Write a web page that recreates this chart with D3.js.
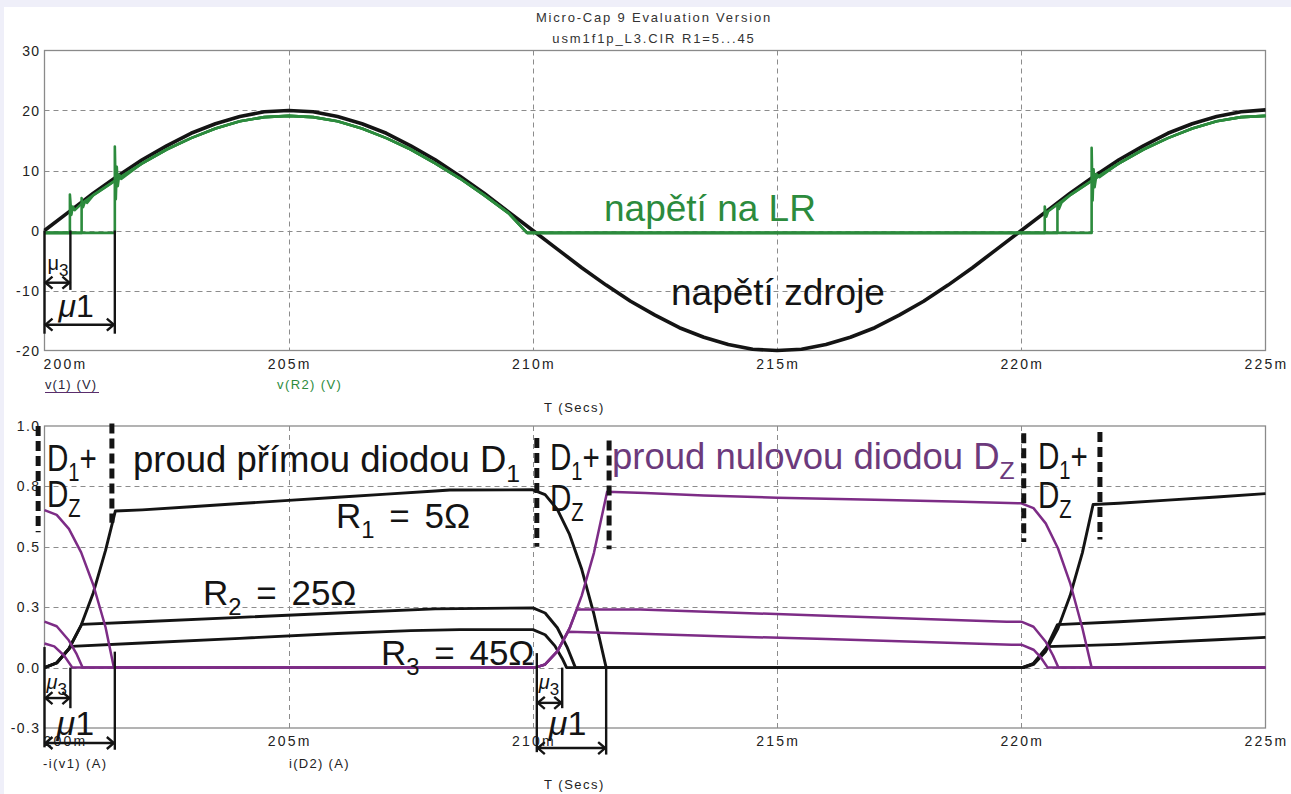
<!DOCTYPE html>
<html>
<head>
<meta charset="utf-8">
<script src="https://cdn.jsdelivr.net/npm/d3@7"></script>
<style>
  body { margin: 0; background: #efeff9; }
  svg { display: block; font-family: "Liberation Sans", Arial, sans-serif; }
</style>
</head>
<body>
<svg id="chart" width="1291" height="794"></svg>
<script>
// ---- axes ----
const xTicks = [200, 205, 210, 215, 220, 225];
const xTickLabels = ["200m", "205m", "210m", "215m", "220m", "225m"];
const vTicks = [-20, -10, 0, 10, 20, 30];
const vTickLabels = ["-20", "-10", "0", "10", "20", "30"];
const iTicks = [-0.25, 0, 0.25, 0.5, 0.75, 1.0];
const iTickLabels = ["-0.3", "0.0", "0.3", "0.5", "0.8", "1.0"];

// ---- top plot: v(1) source voltage, sampled every 0.5 ms from 200 ms ----
const srcStart = 200, srcStep = 0.5;
const srcVolts = [
  0, 3.1, 6.2, 9.1, 11.8, 14.1, 16.2, 17.8, 19.0, 19.8, 20.0,
  19.8, 19.0, 17.8, 16.2, 14.1, 11.8, 9.1, 6.2, 3.1, 0,
  -3.1, -6.2, -9.1, -11.8, -14.1, -16.2, -17.8, -19.0, -19.8, -20.0,
  -19.8, -19.0, -17.8, -16.2, -14.1, -11.8, -9.1, -6.2, -3.1, 0,
  3.1, 6.2, 9.1, 11.8, 14.1, 16.2, 17.8, 19.0, 19.8, 20.1
];

// ---- top plot: v(R2) load voltage, [time ms, volts] ----
const loadCommon1 = [[202, 11.2], [202.5, 13.5], [203, 15.4], [203.5, 17.0], [204, 18.2], [204.5, 18.9],
  [205, 19.1], [205.5, 18.9], [206, 18.2], [206.5, 17.0], [207, 15.4], [207.5, 13.5], [208, 11.2],
  [208.5, 8.7], [209, 5.9], [209.5, 2.9], [209.88, -0.4], [220, -0.4]];
const loadCommon2 = [[222, 11.2], [222.5, 13.5], [223, 15.4], [223.5, 17.0], [224, 18.2], [224.5, 18.9], [225, 19.1]];
const loadR3 = [[200, -0.4], [200.52, -0.4], [200.52, 6.0], [200.55, 2.6], [200.58, 4.0], [200.62, 3.4],
  [200.75, 4.4], [201, 5.9], [201.5, 8.6], ...loadCommon1,
  [220.48, -0.4], [220.48, 4.0], [220.51, 2.3], [220.55, 3.2], [220.75, 4.4], [221, 5.9], [221.5, 8.6], ...loadCommon2];
const loadR2 = [[200, -0.4], [200.76, -0.4], [200.76, 5.4], [200.79, 3.9], [200.83, 4.9], [200.87, 4.6],
  [201, 5.9], [201.5, 8.6], ...loadCommon1,
  [220.74, -0.4], [220.74, 4.3], [220.77, 3.6], [220.82, 4.6], [221, 5.9], [221.5, 8.6], ...loadCommon2];
const loadR1 = [[200, -0.4], [201.44, -0.4], [201.44, 14.0], [201.46, 5.2], [201.48, 10.6], [201.5, 7.4],
  [201.53, 9.3], [201.57, 8.6], ...loadCommon1,
  [221.44, -0.4], [221.44, 13.8], [221.46, 5.0], [221.48, 10.2], [221.5, 7.2], [221.54, 9.4], [221.6, 8.9], ...loadCommon2];

// ---- bottom plot: -i(v1) source current per run, [time ms, amps] ----
const srcCurR1 = [[200, 0], [200.25, 0.02], [200.5, 0.078], [200.75, 0.175], [201, 0.31], [201.25, 0.485], [201.45, 0.648],
  [202, 0.653], [203, 0.666], [204, 0.679], [205, 0.692], [206, 0.705], [207, 0.718], [208, 0.731], [208.3, 0.735], [210, 0.736],
  [210.25, 0.716], [210.5, 0.655], [210.75, 0.551], [211, 0.407], [211.25, 0.221], [211.5, 0],
  [220.05, 0], [220.25, 0.013], [220.5, 0.067], [220.75, 0.162], [221, 0.298], [221.25, 0.475], [221.47, 0.675],
  [222, 0.68], [223, 0.693], [224, 0.706], [225, 0.72]];
const srcCurR2 = [[200, 0], [200.25, 0.019], [200.5, 0.078], [200.76, 0.179],
  [202, 0.19], [204, 0.208], [206, 0.226], [208, 0.243], [210, 0.247],
  [210.25, 0.226], [210.5, 0.165], [210.7, 0.085], [210.87, 0],
  [220.02, 0], [220.25, 0.017], [220.5, 0.075], [220.74, 0.178],
  [222, 0.19], [224, 0.211], [225, 0.223]];
const srcCurR3 = [[200, 0], [200.25, 0.019], [200.55, 0.088],
  [202, 0.102], [204, 0.121], [206, 0.141], [207.5, 0.153], [208.5, 0.157], [210, 0.157],
  [210.25, 0.136], [210.45, 0.09], [210.6, 0.038], [210.69, 0],
  [220.02, 0], [220.25, 0.017], [220.53, 0.087],
  [222, 0.096], [224, 0.115], [225, 0.125]];

// ---- bottom plot: i(D2) freewheel diode current per run ----
const diodeCurR1 = [[200, 0.652], [200.25, 0.632], [200.5, 0.574], [200.75, 0.477], [201, 0.342], [201.25, 0.167], [201.42, 0],
  [210.05, 0], [210.25, 0.013], [210.5, 0.067], [210.75, 0.162], [211, 0.298], [211.25, 0.475], [211.52, 0.728],
  [212.3, 0.723], [213.5, 0.712], [215, 0.703], [217, 0.695], [218.6, 0.688], [220, 0.68],
  [220.25, 0.66], [220.5, 0.597], [220.75, 0.494], [221, 0.35], [221.25, 0.164], [221.44, 0], [225, 0]];
const diodeCurR2 = [[200, 0.19], [200.25, 0.171], [200.5, 0.112], [200.65, 0.059], [200.78, 0],
  [210.05, 0], [210.25, 0.013], [210.5, 0.067], [210.75, 0.162], [210.9, 0.24],
  [212.2, 0.24], [214, 0.228], [216, 0.215], [218, 0.201], [219.7, 0.19], [220, 0.19],
  [220.25, 0.169], [220.5, 0.107], [220.65, 0.05], [220.76, 0], [225, 0]];
const diodeCurR3 = [[200, 0.10], [200.2, 0.088], [200.4, 0.05], [200.57, 0],
  [210.05, 0], [210.25, 0.013], [210.5, 0.067], [210.72, 0.148],
  [212.2, 0.14], [214, 0.129], [216, 0.118], [218, 0.106], [219.8, 0.095], [220, 0.095],
  [220.25, 0.074], [220.4, 0.042], [220.54, 0], [225, 0]];

// ---- annotation data (time ms / value) ----
const commTimesTop = [{t0: 200, t3: 200.53, t1: 201.44}];
const commTimesBot = [
  {t0: 200, t3: 200.53, t1: 201.44, top0: 0.085, top1: 0.066, bot: -0.33, a3: -0.126, a1: -0.312},
  {t0: 210.08, t3: 210.6, t1: 211.5, top0: 0.06, top1: 0, bot: -0.35, a3: -0.146, a1: -0.333}
];
const bandMarks = [
  {t: 199.87, from: 1.0, to: 0.56}, {t: 201.38, from: 1.01, to: 0.6},
  {t: 210.08, from: 0.95, to: 0.5}, {t: 211.56, from: 0.94, to: 0.49},
  {t: 220.05, from: 0.97, to: 0.52}, {t: 221.61, from: 0.975, to: 0.53}
];

// ---- layout ----
const W = 1291, H = 794;
const plotLeft = 44.5, plotRight = 1265.5;
const topPlot = {top: 50.5, bottom: 350.5};
const botPlot = {top: 426, bottom: 728};
const BLACK = "#141414", GREEN = "#2c8b3d", PURPLE = "#7d2c86", PURPLE_TXT = "#6c3a7c", GRID = "#8c8c8c";

const svg = d3.select("#chart");
svg.append("rect").attr("x", 0).attr("y", 0).attr("width", W).attr("height", H).attr("fill", "#efeff9");
svg.append("rect").attr("x", 4).attr("y", 7).attr("width", W - 4).attr("height", H - 7).attr("fill", "#ffffff");

const x = d3.scaleLinear().domain([200, 225]).range([plotLeft, plotRight]);
const yV = d3.scaleLinear().domain([-20, 30]).range([topPlot.bottom, topPlot.top]);
const yI = d3.scaleLinear().domain([-0.25, 1.0]).range([botPlot.bottom, botPlot.top]);

// titles
svg.append("text").attr("x", 654).attr("y", 22).attr("text-anchor", "middle")
  .attr("font-size", 13).attr("letter-spacing", 1.8).attr("fill", "#333")
  .text("Micro-Cap 9 Evaluation Version");
svg.append("text").attr("x", 654).attr("y", 43).attr("text-anchor", "middle")
  .attr("font-size", 13).attr("letter-spacing", 1.9).attr("fill", "#333")
  .text("usm1f1p_L3.CIR R1=5...45");

function drawFrame(box, yScale, ticks, tickLabels) {
  const g = svg.append("g");
  // horizontal grid
  g.selectAll("line.hg").data(ticks.slice(1, -1)).join("line")
    .attr("x1", plotLeft).attr("x2", plotRight)
    .attr("y1", d => Math.round(yScale(d)) + 0.5).attr("y2", d => Math.round(yScale(d)) + 0.5)
    .attr("stroke", GRID).attr("stroke-width", 1).attr("stroke-dasharray", "5,4");
  // vertical grid
  g.selectAll("line.vg").data(xTicks.slice(1, -1)).join("line")
    .attr("x1", d => Math.round(x(d)) + 0.5).attr("x2", d => Math.round(x(d)) + 0.5)
    .attr("y1", box.top).attr("y2", box.bottom)
    .attr("stroke", GRID).attr("stroke-width", 1).attr("stroke-dasharray", "5,4");
  g.append("rect").attr("x", plotLeft).attr("y", box.top)
    .attr("width", plotRight - plotLeft).attr("height", box.bottom - box.top)
    .attr("fill", "none").attr("stroke", "#8a8a8a").attr("stroke-width", 1.3);
  // y tick labels
  g.selectAll("text.yl").data(ticks).join("text")
    .attr("x", 40.5).attr("y", d => yScale(d) + 5).attr("text-anchor", "end")
    .attr("font-size", 14).attr("letter-spacing", 1.4).attr("fill", "#222")
    .text((d, i) => tickLabels[i]);
  // x tick labels
  g.selectAll("text.xl").data(xTicks).join("text")
    .attr("x", (d, i) => i === 0 ? x(d) - 1 : x(d) + 1)
    .attr("y", box.bottom + 18).attr("text-anchor", (d, i) => i === 0 ? "start" : "middle")
    .attr("font-size", 14).attr("letter-spacing", 2.2).attr("fill", "#222")
    .text((d, i) => xTickLabels[i]);
  g.append("text").attr("x", 544).attr("y", box.bottom + 61)
    .attr("font-size", 13).attr("letter-spacing", 1.5).attr("fill", "#222").text("T (Secs)");
  return g;
}

drawFrame(topPlot, yV, vTicks, vTickLabels);
drawFrame(botPlot, yI, iTicks, iTickLabels);

// trace names
svg.append("text").attr("x", 45).attr("y", 389).attr("font-size", 13).attr("letter-spacing", 1.1)
  .attr("fill", "#2a1f3a").text("v(1) (V)");
svg.append("line").attr("x1", 45).attr("x2", 99).attr("y1", 392.5).attr("y2", 392.5)
  .attr("stroke", "#5a2d6c").attr("stroke-width", 1.2);
svg.append("text").attr("x", 277).attr("y", 389).attr("font-size", 13).attr("letter-spacing", 1.4)
  .attr("fill", GREEN).text("v(R2) (V)");
svg.append("text").attr("x", 43).attr("y", 768).attr("font-size", 13).attr("letter-spacing", 1.4)
  .attr("fill", "#222").text("-i(v1) (A)");
svg.append("text").attr("x", 289).attr("y", 768).attr("font-size", 13).attr("letter-spacing", 1.3)
  .attr("fill", "#222").text("i(D2) (A)");

// ---- traces ----
const srcSeries = srcVolts.map((v, i) => [srcStart + i * srcStep, v]);
const lineV = d3.line().x(d => x(d[0])).y(d => yV(d[1]));
const lineI = d3.line().x(d => x(d[0])).y(d => yI(d[1]));

const topG = svg.append("g");
topG.append("path").datum(srcSeries).attr("d", lineV)
  .attr("fill", "none").attr("stroke", BLACK).attr("stroke-width", 3.6).attr("stroke-linejoin", "round");
[loadR1, loadR2, loadR3].forEach(s => {
  topG.append("path").datum(s).attr("d", lineV)
    .attr("fill", "none").attr("stroke", GREEN).attr("stroke-width", 2.6).attr("stroke-linejoin", "round");
});

const botG = svg.append("g");
[srcCurR1, srcCurR2, srcCurR3].forEach(s => {
  botG.append("path").datum(s).attr("d", lineI)
    .attr("fill", "none").attr("stroke", BLACK).attr("stroke-width", 2.9).attr("stroke-linejoin", "round");
});
[diodeCurR1, diodeCurR2, diodeCurR3].forEach(s => {
  botG.append("path").datum(s).attr("d", lineI)
    .attr("fill", "none").attr("stroke", PURPLE).attr("stroke-width", 2.5).attr("stroke-linejoin", "round");
});

// ---- annotations ----
const ann = svg.append("g").attr("stroke", BLACK).attr("fill", "none");

function vline(xp, y1, y2, w) {
  ann.append("line").attr("x1", xp).attr("x2", xp).attr("y1", y1).attr("y2", y2)
    .attr("stroke-width", w || 2.4);
}
function dblArrow(xa, xb, yp) {
  ann.append("line").attr("x1", xa).attr("x2", xb).attr("y1", yp).attr("y2", yp).attr("stroke-width", 2.4);
  ann.append("path").attr("d", `M${xa + 8},${yp - 6} L${xa + 1},${yp} L${xa + 8},${yp + 6}`).attr("stroke-width", 2.4);
  ann.append("path").attr("d", `M${xb - 8},${yp - 6} L${xb - 1},${yp} L${xb - 8},${yp + 6}`).attr("stroke-width", 2.4);
}

function rich(xp, yp, parts, opts) {
  const t = svg.append("text").attr("x", xp).attr("y", yp)
    .attr("font-size", opts.size).attr("fill", opts.fill || BLACK);
  if (opts.sx) t.attr("transform", `translate(${xp},${yp}) scale(${opts.sx},1) translate(${-xp},${-yp})`);
  if (opts.italic) t.attr("font-style", "italic");
  if (opts.ws) t.attr("word-spacing", opts.ws);
  let shift = 0;
  parts.forEach(p => {
    const ts = t.append("tspan").text(p.t);
    if (p.sub) {
      ts.attr("font-size", opts.size * (opts.subScale || 0.68)).attr("dy", opts.size * 0.28 - shift);
      shift = opts.size * 0.28;
    } else if (shift) {
      ts.attr("dy", -shift);
      shift = 0;
    }
    if (p.italic) ts.attr("font-style", "italic");
  });
  return t;
}

// top commutation marks
commTimesTop.forEach(c => {
  vline(x(c.t0), yV(0), yV(-17.2));
  vline(x(c.t3), yV(0), yV(-9.9));
  vline(x(c.t1), yV(0), yV(-17.2));
  dblArrow(x(c.t0), x(c.t3), yV(-8.7));
  dblArrow(x(c.t0), x(c.t1), yV(-15.7));
  rich(x(c.t0) + 3, yV(-6.6), [{t: "μ"}, {t: "3", sub: true}], {size: 20, subScale: 0.85});
  rich(x(c.t0) + 14, yV(-14.4), [{t: "μ", italic: true}, {t: "1"}], {size: 32});
});

// bottom commutation marks
commTimesBot.forEach(c => {
  vline(x(c.t0), yI(c.top0), yI(c.bot));
  vline(x(c.t3), yI(0), yI(-0.168));
  vline(x(c.t1), yI(c.top1), yI(c.bot - 0.01));
  dblArrow(x(c.t0), x(c.t3), yI(c.a3));
  dblArrow(x(c.t0), x(c.t1), yI(c.a1));
  rich(x(c.t0) + 2, yI(-0.09), [{t: "μ", italic: true}, {t: "3", sub: true}], {size: 20, subScale: 0.85});
  rich(x(c.t0) + 12, yI(-0.28), [{t: "μ", italic: true}, {t: "1"}], {size: 34});
});

// thick dashed interval markers
bandMarks.forEach(b => {
  ann.append("line").attr("x1", x(b.t)).attr("x2", x(b.t)).attr("y1", yI(b.from)).attr("y2", yI(b.to))
    .attr("stroke-width", 5).attr("stroke-dasharray", "10,5");
});

// text labels
const labelFont = 37;
svg.append("text").attr("x", 604).attr("y", 221).attr("font-size", labelFont).attr("fill", GREEN).text("napětí na LR");
svg.append("text").attr("x", 671).attr("y", 305).attr("font-size", labelFont).attr("fill", BLACK).text("napětí zdroje");

rich(133, 472, [{t: "proud přímou diodou D"}, {t: "1", sub: true}], {size: 36.5});
rich(612, 469, [{t: "proud nulovou diodou D"}, {t: "Z", sub: true}], {size: 36.5, fill: PURPLE_TXT});

[{xp: 47, y1: 471, y2: 507}, {xp: 550, y1: 470, y2: 511}, {xp: 1038, y1: 469, y2: 508}].forEach(p => {
  rich(p.xp, p.y1, [{t: "D"}, {t: "1", sub: true}, {t: "+"}], {size: 37, sx: 0.8});
  rich(p.xp, p.y2, [{t: "D"}, {t: "Z", sub: true}], {size: 37, sx: 0.8});
});

rich(336, 528, [{t: "R"}, {t: "1", sub: true}, {t: " = 5Ω"}], {size: 35, ws: 5});
rich(203, 605, [{t: "R"}, {t: "2", sub: true}, {t: " = 25Ω"}], {size: 35, ws: 5});
rich(381, 665, [{t: "R"}, {t: "3", sub: true}, {t: " = 45Ω"}], {size: 35, ws: 5});
</script>
</body>
</html>
